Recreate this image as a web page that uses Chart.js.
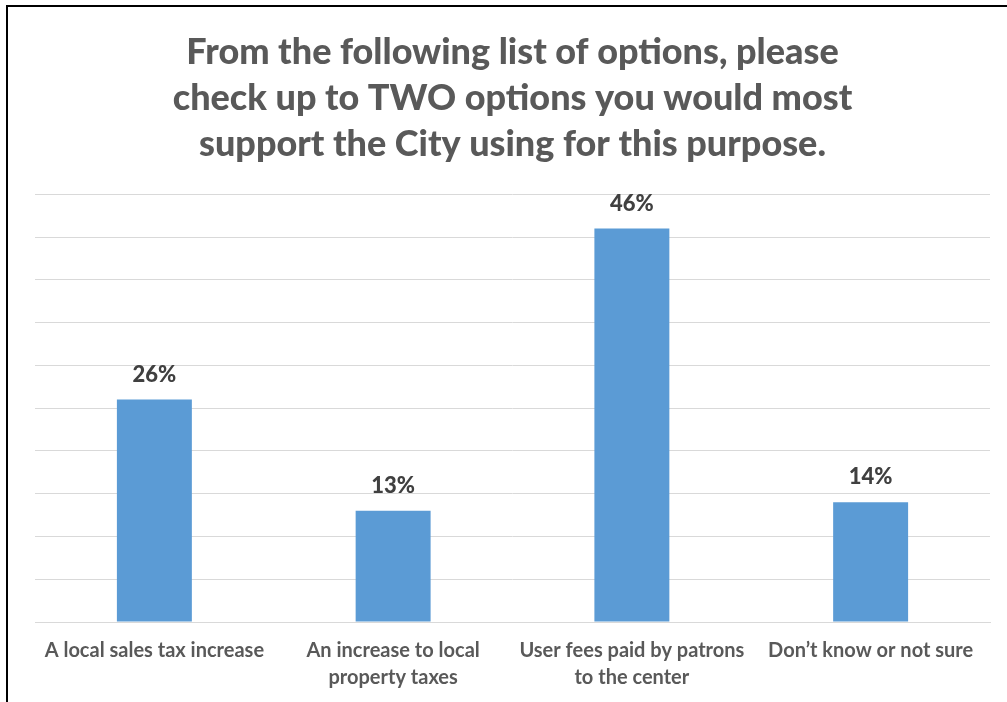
<!DOCTYPE html>
<html>
<head>
<meta charset="utf-8">
<script src="https://cdn.jsdelivr.net/npm/chart.js@4.4.1/dist/chart.umd.min.js"></script>
<style>
  html, body { margin: 0; padding: 0; background: #fff; }
  #wrap {
    position: absolute; left: 0; top: 0; width: 1007px; height: 702px;
  }
  #frame {
    position: absolute; left: 6px; top: 5px; right: 0; bottom: 0;
    border-left: 2px solid #000; border-top: 2px solid #000;
    pointer-events: none;
  }
</style>
</head>
<body>
<div id="wrap">
  <canvas id="chart" width="1007" height="702"></canvas>
  <div id="frame"></div>
</div>
<script>
// --- Data ---
const titleLines = [
    'From the following list of options, please',
    'check up to TWO options you would most',
    'support the City using for this purpose.'
];
const categories = [
    'A local sales tax increase',
    ['An increase to local', 'property taxes'],
    ['User fees paid by patrons', 'to the center'],
    'Don\u2019t know or not sure'
];
const percents = [26, 13, 46, 14];

const FONT = 'Lato, "Open Sans", sans-serif';

// Draw the "NN%" labels above each bar
const valueLabels = {
    id: 'valueLabels',
    afterDatasetsDraw(chart) {
        const ctx = chart.ctx;
        const meta = chart.getDatasetMeta(0);
        ctx.save();
        ctx.font = `900 22px ${FONT}`;
        ctx.fillStyle = '#404040';
        ctx.textAlign = 'center';
        ctx.textBaseline = 'bottom';
        meta.data.forEach((bar, i) => {
            ctx.fillText(percents[i] + '%', bar.x, bar.y - 14);
        });
        ctx.restore();
    }
};

const ctx = document.getElementById('chart').getContext('2d');
new Chart(ctx, {
    type: 'bar',
    data: {
        labels: categories,
        datasets: [{
            data: percents,
            backgroundColor: '#5B9BD5',
            barPercentage: 0.314,
            categoryPercentage: 1.0
        }]
    },
    options: {
        responsive: false,
        animation: false,
        layout: { padding: { left: 35, right: 17, top: 0, bottom: -4 } },
        plugins: {
            legend: { display: false },
            tooltip: { enabled: false },
            title: {
                display: true,
                text: titleLines,
                color: '#595959',
                font: { family: FONT, size: 36, weight: 900, lineHeight: 1.28 },
                padding: { top: 29, bottom: 27 }
            }
        },
        scales: {
            x: {
                grid: { display: false, drawTicks: false },
                border: { display: true, color: '#D9D9D9', width: 1 },
                ticks: {
                    color: '#595959',
                    font: { family: FONT, size: 20, weight: 'bold', lineHeight: 1.35 },
                    padding: 15,
                    maxRotation: 0,
                    autoSkip: false
                }
            },
            y: {
                min: 0,
                max: 50,
                ticks: { display: false, stepSize: 5 },
                grid: { color: '#D9D9D9', lineWidth: 1, drawTicks: false },
                border: { display: false }
            }
        }
    },
    plugins: [valueLabels]
});
</script>
</body>
</html>
